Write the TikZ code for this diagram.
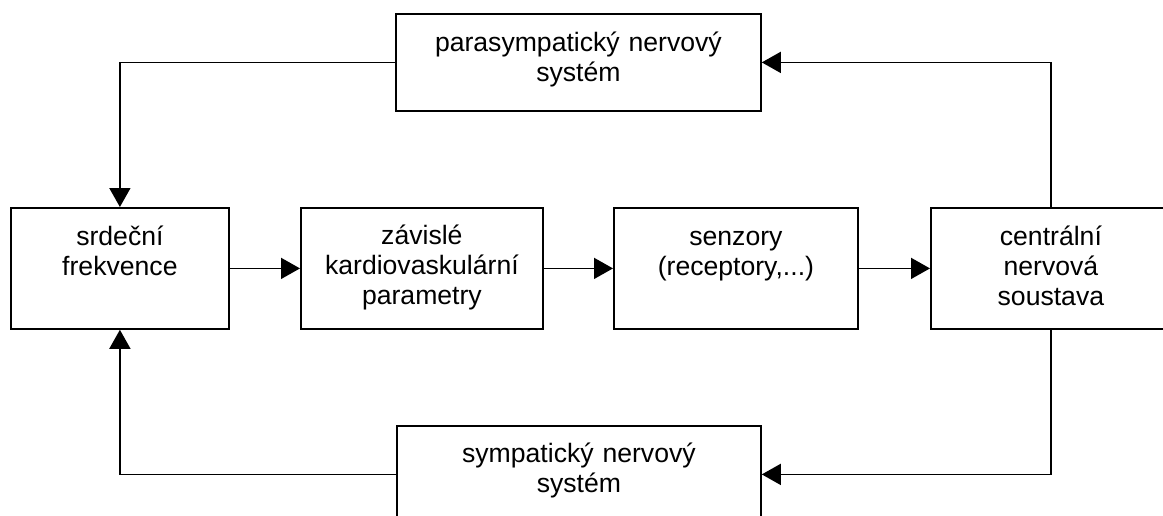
\documentclass[tikz,border=0pt]{standalone}
\usepackage{fontspec}
\setmainfont{Liberation Sans}
\usetikzlibrary{arrows.meta}

\begin{document}
\begin{tikzpicture}[x=1pt, y=-1pt,
  box/.style={draw, line width=1.8pt, inner sep=0pt, anchor=north west},
  label text/.style={anchor=base, align=center, inner sep=0pt,
    font=\fontsize{26.6}{30}\selectfont},
  arr/.style={line width=1.6pt, -{Triangle[length=19pt, width=21pt]}},
  link/.style={line width=1.6pt}]
\useasboundingbox (0,0) rectangle (1163,515);
\clip (0,0) rectangle (1163,515);

% blocks
\node[box, minimum width=365pt, minimum height=97pt] (para) at (395,13) {};
\node[box, minimum width=218pt, minimum height=121pt] (sr) at (10,207) {};
\node[box, minimum width=242pt, minimum height=121pt] (za) at (300,207) {};
\node[box, minimum width=244pt, minimum height=121pt] (se) at (613,207) {};
\node[box, minimum width=240pt, minimum height=121pt] (cns) at (930,207) {};
\node[box, minimum width=364pt, minimum height=97pt] (sym) at (396,425) {};

% labels, first baseline at a fixed depth below the top edge
\node[label text, text width=360pt] (para-t) at ([yshift=-38pt]para.north) {parasympatický nervový\\systém};
\node[label text, text width=210pt] (sr-t) at ([yshift=-38pt]sr.north) {srdeční\\frekvence};
\node[label text, text width=236pt] (za-t) at ([yshift=-37pt]za.north) {závislé\\kardiovaskulární\\parametry};
\node[label text, text width=236pt] (se-t) at ([yshift=-38pt]se.north) {senzory\\(receptory,...)};
\node[label text, text width=236pt] (cns-t) at ([yshift=-38pt]cns.north) {centrální\\nervová\\soustava};
\node[label text, text width=360pt] (sym-t) at ([yshift=-37pt]sym.north) {sympatický nervový\\systém};

% forward chain
\draw[arr] (sr.east) -- (za.west);
\draw[arr] (za.east) -- (se.west);
\draw[arr] (se.east) -- (cns.west);

% feedback loops
\draw[arr] (cns.north) |- (para.east);
\draw[arr] (para.west) -| (sr.north);
\draw[arr] (cns.south) |- (sym.east);
\draw[arr] (sym.west) -| (sr.south);
\end{tikzpicture}
\end{document}
